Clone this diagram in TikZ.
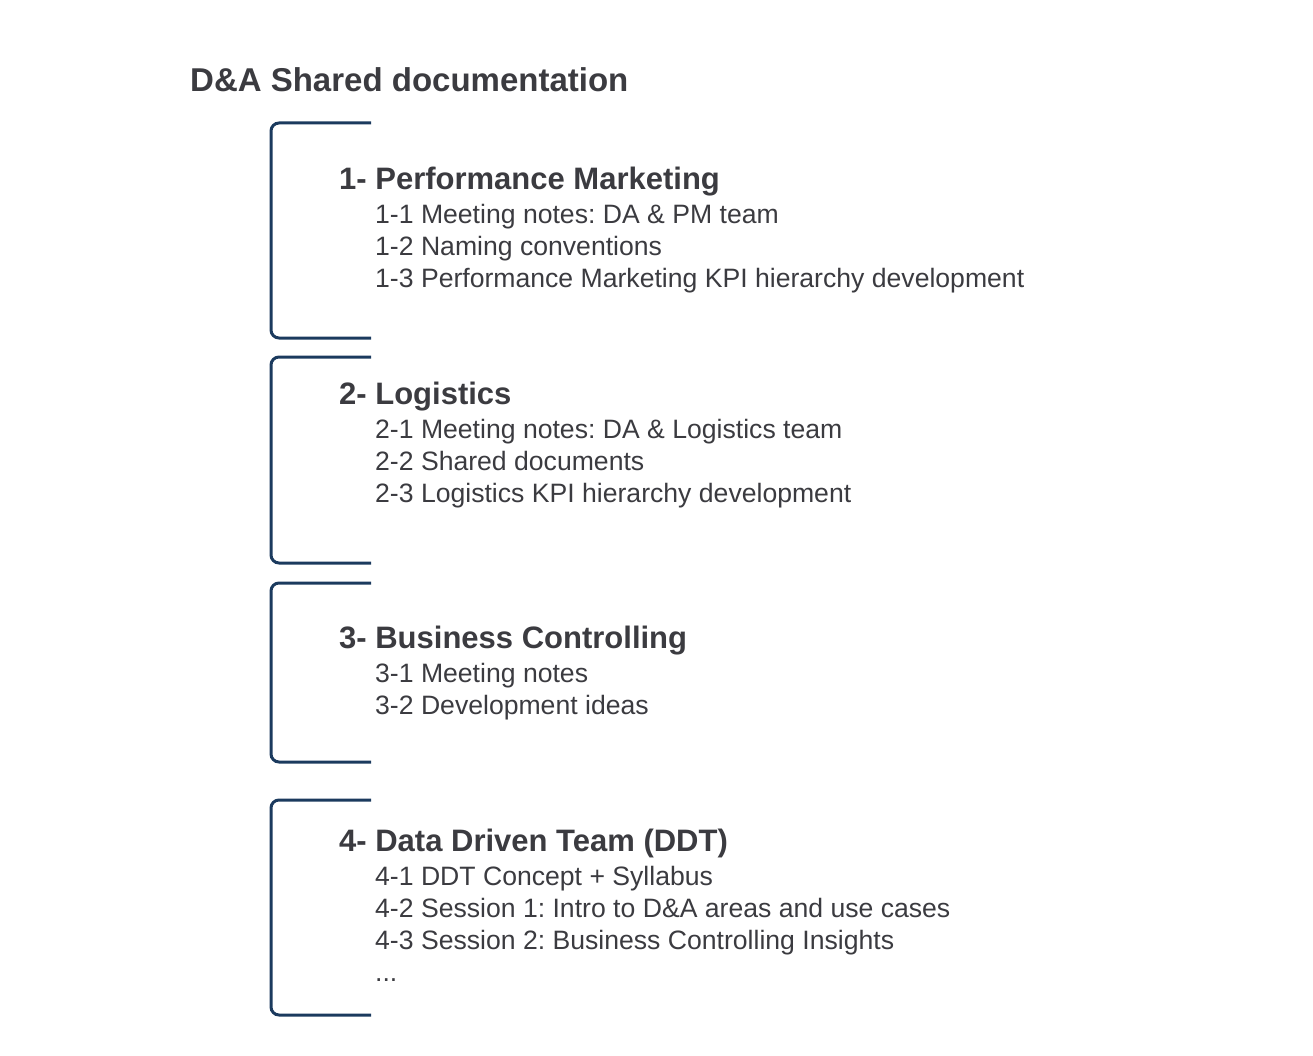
\documentclass[tikz,border=0pt]{standalone}
\usepackage{fontspec}
\setmainfont{Liberation Sans}
\frenchspacing
\definecolor{bracketblue}{HTML}{1B3A5E}
\definecolor{textgray}{HTML}{3B3B40}
\tikzset{
    bracket/.style={draw=bracketblue, line width=3pt, rounded corners=8pt},
    title/.style={anchor=base west, inner sep=0pt, text=textgray, font=\fontsize{33}{40}\selectfont\bfseries},
    heading/.style={anchor=base west, inner sep=0pt, text=textgray, font=\fontsize{31}{37}\selectfont\bfseries},
    item/.style={anchor=base west, inner sep=0pt, text=textgray, font=\fontsize{26.6}{32}\selectfont}
}
\begin{document}
\begin{tikzpicture}[x=1pt,y=-1pt]
    % Canvas
    \useasboundingbox (0,0) rectangle (1313,1056);

    % Title
    \node [title] (title) at (190,92) {D\&A Shared documentation};

    % Brackets
    \draw [bracket] (371,123) -- (271,123) -- (271,338) -- (371,338);
    \draw [bracket] (371,357) -- (271,357) -- (271,563) -- (371,563);
    \draw [bracket] (371,583) -- (271,583) -- (271,762) -- (371,762);
    \draw [bracket] (371,800) -- (271,800) -- (271,1015) -- (371,1015);

    % 1- Performance Marketing
    \node [heading] (pm) at (339,190) {1- Performance Marketing};
    \node [item] (pm1) at (375,224) {1-1 Meeting notes: DA \& PM team};
    \node [item] (pm2) at (375,256) {1-2 Naming conventions};
    \node [item] (pm3) at (375,288) {1-3 Performance Marketing KPI hierarchy development};

    % 2- Logistics
    \node [heading] (log) at (339,404) {2- Logistics};
    \node [item] (log1) at (375,438) {2-1 Meeting notes: DA \& Logistics team};
    \node [item] (log2) at (375,470) {2-2 Shared documents};
    \node [item] (log3) at (375,502) {2-3 Logistics KPI hierarchy development};

    % 3- Business Controlling
    \node [heading] (bc) at (339,648) {3- Business Controlling};
    \node [item] (bc1) at (375,682) {3-1 Meeting notes};
    \node [item] (bc2) at (375,714) {3-2 Development ideas};

    % 4- Data Driven Team
    \node [heading] (ddt) at (339,851) {4- Data Driven Team (DDT)};
    \node [item] (ddt1) at (375,885) {4-1 DDT Concept + Syllabus};
    \node [item] (ddt2) at (375,917) {4-2 Session 1: Intro to D\&A areas and use cases};
    \node [item] (ddt3) at (375,949) {4-3 Session 2: Business Controlling Insights};
    \node [item] (ddt4) at (375,981) {...};
\end{tikzpicture}
\end{document}
